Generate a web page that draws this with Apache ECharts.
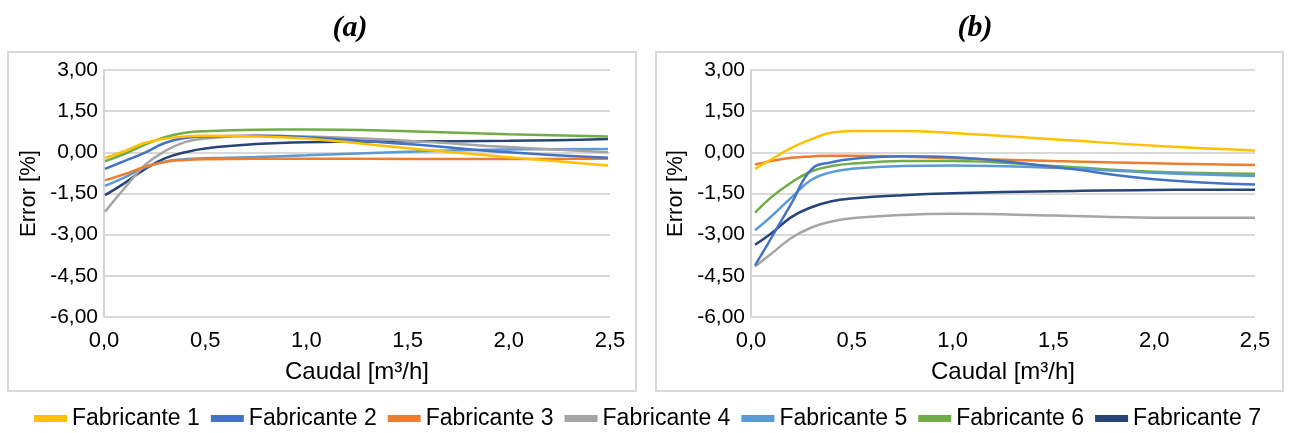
<!DOCTYPE html>
<html>
<head>
<meta charset="utf-8">
<script src="https://cdn.jsdelivr.net/npm/echarts@6/dist/echarts.min.js"></script>
<style>
html,body{margin:0;padding:0;background:#fff;}
#chart{width:1290px;height:433px;}
</style>
</head>
<body>
<div id="chart"></div>
<script>
// ---- Data ----
const seriesNames = ['Fabricante 1','Fabricante 2','Fabricante 3','Fabricante 4','Fabricante 5','Fabricante 6','Fabricante 7'];
const seriesColors = ['#FFC000','#4472C4','#ED7D31','#A5A5A5','#5B9BD5','#70AD47','#264478'];
const panelTitles = ['(a)','(b)'];
const yTicks = [-6, -4.5, -3, -1.5, 0, 1.5, 3];
const xTicks = [0, 0.5, 1.0, 1.5, 2.0, 2.5];

// Panel (a): flows [m3/h]
const flowA = [0.005, 0.1, 0.2, 0.3, 0.4, 0.5, 0.75, 1.0, 1.5, 2.0, 2.49];
const a_F1 = [-0.20, 0.04, 0.34, 0.50, 0.58, 0.60, 0.58, 0.50, 0.15, -0.18, -0.48];
const a_F2 = [-0.60, -0.32, -0.02, 0.34, 0.52, 0.58, 0.60, 0.55, 0.30, 0.00, -0.20];
const a_F3 = [-1.02, -0.80, -0.53, -0.35, -0.28, -0.25, -0.23, -0.23, -0.24, -0.24, -0.23];
const a_F4 = [-2.16, -1.32, -0.48, 0.04, 0.37, 0.50, 0.60, 0.58, 0.42, 0.19, 0.00];
const a_F5 = [-1.22, -0.92, -0.56, -0.34, -0.25, -0.22, -0.17, -0.11, 0.02, 0.10, 0.12];
const a_F6 = [-0.32, -0.06, 0.27, 0.55, 0.71, 0.77, 0.82, 0.83, 0.77, 0.66, 0.58];
const a_F7 = [-1.56, -1.13, -0.62, -0.22, 0.00, 0.14, 0.30, 0.37, 0.40, 0.42, 0.49];

// Panel (b): flows [m3/h]
const flowB = [0.02, 0.1, 0.2, 0.3, 0.4, 0.5, 0.75, 1.0, 1.5, 2.0, 2.5];
const b_F1 = [-0.60, -0.26, 0.16, 0.48, 0.72, 0.78, 0.78, 0.70, 0.48, 0.24, 0.07];
const b_F2 = [-4.12, -3.13, -1.87, -0.62, -0.36, -0.24, -0.14, -0.18, -0.53, -0.98, -1.17];
const b_F3 = [-0.44, -0.32, -0.20, -0.15, -0.12, -0.12, -0.15, -0.22, -0.32, -0.40, -0.46];
const b_F4 = [-4.16, -3.70, -3.12, -2.74, -2.52, -2.40, -2.28, -2.24, -2.30, -2.38, -2.38];
const b_F5 = [-2.84, -2.34, -1.65, -1.00, -0.72, -0.60, -0.50, -0.48, -0.56, -0.74, -0.86];
const b_F6 = [-2.20, -1.64, -1.10, -0.69, -0.50, -0.41, -0.32, -0.32, -0.50, -0.71, -0.78];
const b_F7 = [-3.37, -2.96, -2.36, -2.00, -1.78, -1.68, -1.56, -1.49, -1.42, -1.37, -1.36];

const panelA = [a_F1, a_F2, a_F3, a_F4, a_F5, a_F6, a_F7];
const panelB = [b_F1, b_F2, b_F3, b_F4, b_F5, b_F6, b_F7];

// ---- Chart ----
const chart = echarts.init(document.getElementById('chart'), null, {renderer: 'canvas'});
const FONT = '"Liberation Sans", Arial, sans-serif';
const grids = [
  {left: 104, top: 70, width: 506, height: 247},
  {left: 751, top: 70, width: 504, height: 247}
];
function comma(v, d){ return v.toFixed(d).replace('.', ','); }

function xAxisCfg(i){
  return {
    type: 'value', gridIndex: i, min: 0, max: 2.5, interval: 0.5,
    name: 'Caudal [m³/h]', nameLocation: 'middle', nameGap: 43,
    nameTextStyle: {fontFamily: FONT, fontSize: 24, color: '#000'},
    axisLine: {show: false}, axisTick: {show: false}, splitLine: {show: false},
    axisLabel: {fontFamily: FONT, fontSize: 22, color: '#000', margin: 13,
      formatter: v => comma(v, 1)}
  };
}
function yAxisCfg(i){
  return {
    type: 'value', gridIndex: i, min: -6, max: 3, interval: 1.5,
    name: 'Error [%]', nameLocation: 'middle', nameGap: 64,
    nameTextStyle: {fontFamily: FONT, fontSize: 22, color: '#000'},
    axisLine: {show: true, lineStyle: {color: '#D4D4D4', width: 2}},
    axisTick: {show: false},
    splitLine: {show: true, lineStyle: {color: '#D9D9D9', width: 2}},
    axisLabel: {fontFamily: FONT, fontSize: 21, color: '#000', margin: 6,
      formatter: v => comma(v, 2)}
  };
}

const series = [];
[[flowA, panelA], [flowB, panelB]].forEach(([flow, vals], p) => {
  vals.forEach((arr, k) => {
    series.push({
      name: seriesNames[k], type: 'line', xAxisIndex: p, yAxisIndex: p,
      data: flow.map((q, j) => [q, arr[j]]),
      smooth: 0.45, showSymbol: false, symbol: 'none',
      lineStyle: {color: seriesColors[k], width: 2.5},
      itemStyle: {color: seriesColors[k]},
      z: 10 - k
    });
  });
});

const option = {
  animation: false,
  backgroundColor: '#fff',
  title: panelTitles.map((t, i) => ({
    text: t, left: i === 0 ? 345 : 970, top: 8, textAlign: 'center',
    textStyle: {fontFamily: '"Liberation Serif", "Times New Roman", serif',
      fontStyle: 'italic', fontWeight: 'bold', fontSize: 30, color: '#000'}
  })),
  grid: grids,
  xAxis: [xAxisCfg(0), xAxisCfg(1)],
  yAxis: [yAxisCfg(0), yAxisCfg(1)],
  legend: {
    data: seriesNames, left: 29, top: 402, icon: 'rect',
    itemWidth: 33, itemHeight: 7, itemGap: 11,
    textStyle: {fontFamily: FONT, fontSize: 23, color: '#000'}
  },
  graphic: [
    {type: 'rect', shape: {x: 8, y: 52, width: 628, height: 339},
      style: {fill: null, stroke: '#D9D9D9', lineWidth: 2}, silent: true},
    {type: 'rect', shape: {x: 656, y: 52, width: 627, height: 339},
      style: {fill: null, stroke: '#D9D9D9', lineWidth: 2}, silent: true}
  ],
  series: series
};
chart.setOption(option);
</script>
</body>
</html>
